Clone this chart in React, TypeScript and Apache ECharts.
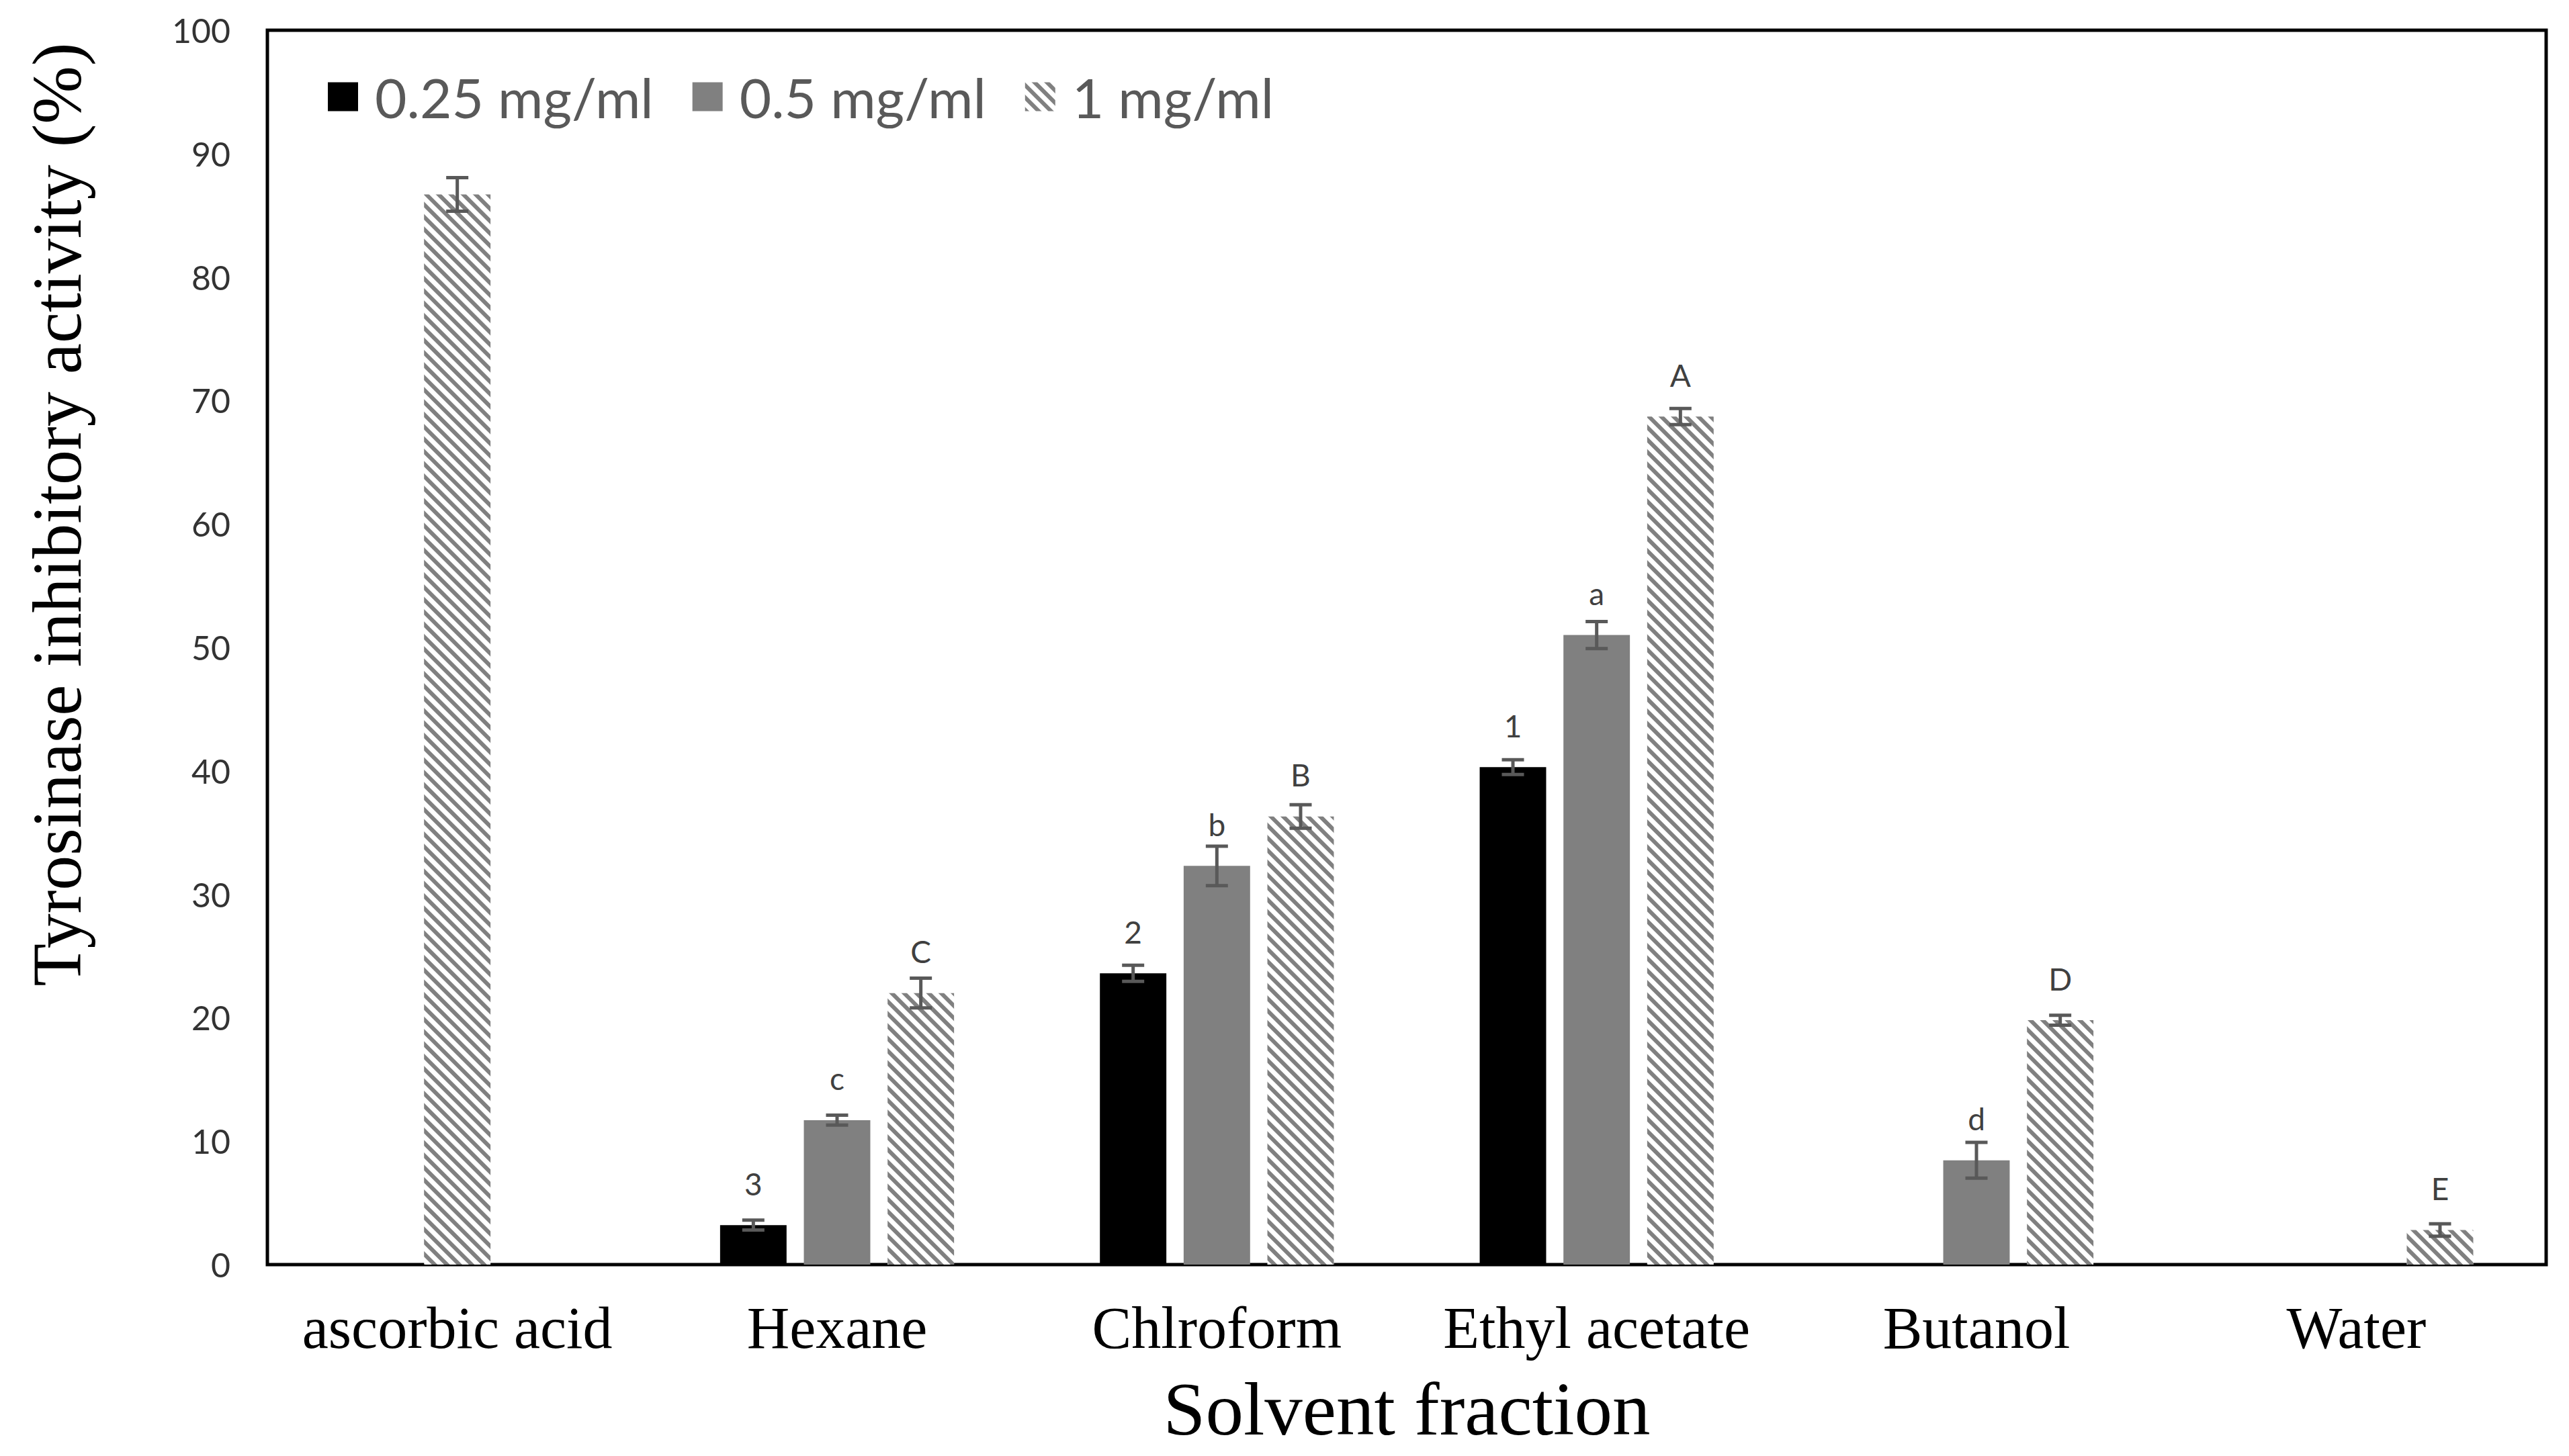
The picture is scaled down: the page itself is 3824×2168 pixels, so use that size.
import React, { useEffect, useRef } from "react";
import * as echarts from "echarts";

const categories = ["ascorbic acid", "Hexane", "Chlroform", "Ethyl acetate", "Butanol", "Water"];
const seriesNames = ["0.25 mg/ml", "0.5 mg/ml", "1 mg/ml"];
const low = [null, 3.2, 23.6, 40.3, null, null];
const mid = [86.7, 11.7, 32.3, 51.0, 8.45, null];
const high = [null, 22.0, 36.3, 68.7, 19.8, 2.8];
const lowErr = [null, 0.4, 0.65, 0.6, null, null];
const midErr = [1.36, 0.4, 1.6, 1.1, 1.45, null];
const highErr = [null, 1.2, 0.95, 0.65, 0.4, 0.5];
const lowLetters = ["", "3", "2", "1", "", ""];
const midLetters = ["", "c", "b", "a", "d", ""];
const highLetters = ["", "C", "B", "A", "D", "E"];
const hatchedIndexInMid = 0; // ascorbic acid bar drawn with the 1 mg/ml hatch
const yTicks = { min: 0, max: 100, interval: 10 };

const BAR_FRAC = 0.175;
const GAP_FRAC = 0.26;

const hatch = {
  symbol: "rect",
  symbolSize: 1,
  dashArrayX: [1, 0],
  dashArrayY: [6, 7],
  rotation: Math.PI / 4,
  color: "#808080",
  backgroundColor: "#ffffff",
};

function errSeries(name: string, values: (number | null)[], errs: (number | null)[], slot: number) {
  const data: number[][] = [];
  values.forEach((v, i) => {
    if (v != null && errs[i] != null) data.push([i, v, errs[i] as number]);
  });
  return {
    type: "custom",
    name,
    z: 5,
    encode: { x: 0, y: 1 },
    data,
    renderItem: (params: any, api: any) => {
      const x = api.value(0);
      const v = api.value(1);
      const e = api.value(2);
      const band = api.size([1, 0])[0];
      const bw = band * BAR_FRAC;
      const off = slot * bw * (1 + GAP_FRAC);
      const top = api.coord([x, v + e]);
      const bot = api.coord([x, v - e]);
      const cx = top[0] + off;
      const hw = 16.5;
      const st = { stroke: "#595959", lineWidth: 5 };
      return {
        type: "group",
        children: [
          { type: "line", shape: { x1: cx, y1: top[1], x2: cx, y2: bot[1] }, style: st },
          { type: "line", shape: { x1: cx - hw, y1: top[1], x2: cx + hw, y2: top[1] }, style: st },
          { type: "line", shape: { x1: cx - hw, y1: bot[1], x2: cx + hw, y2: bot[1] }, style: st },
        ],
      };
    },
  };
}

function labelFor(letters: string[]) {
  return {
    show: true,
    position: "top",
    distance: 39,
    fontFamily: "Lato",
    fontSize: 46,
    color: "#404040",
    formatter: (p: any) => letters[p.dataIndex] || "",
  };
}

export default function App() {
  const ref = useRef<HTMLDivElement>(null);
  useEffect(() => {
    if (!ref.current) return;
    const chart = echarts.init(ref.current, undefined, { renderer: "svg" });
    const midData = mid.map((v, i) =>
      v == null
        ? "-"
        : i === hatchedIndexInMid
        ? { value: v, itemStyle: { color: "#ffffff", decal: hatch } }
        : v
    );
    chart.setOption({
      animation: false,
      backgroundColor: "#ffffff",
      grid: {
        show: true,
        borderColor: "#000000",
        borderWidth: 5,
        left: 398,
        right: 34,
        top: 45,
        bottom: 285,
        containLabel: false,
      },
      legend: {
        left: 483,
        top: 98,
        itemWidth: 45,
        itemHeight: 43,
        itemGap: 58,
        icon: "rect",
        data: seriesNames,
        textStyle: {
          fontFamily: "Lato",
          fontSize: 82,
          lineHeight: 82,
          color: "#595959",
          padding: [0, 0, 0, 20],
        },
      },
      graphic: [
        {
          type: "text",
          x: 84,
          y: 766,
          rotation: Math.PI / 2,
          style: {
            text: "Tyrosinase inhibitory activity (%)",
            fontFamily: "Liberation Serif",
            fontSize: 104,
            fill: "#000000",
            textAlign: "center",
            textVerticalAlign: "middle",
          },
        },
      ],
      xAxis: {
        type: "category",
        data: categories,
        axisTick: { show: false },
        axisLine: { show: false },
        axisLabel: {
          interval: 0,
          fontFamily: "Liberation Serif",
          fontSize: 88,
          color: "#000000",
          margin: 50,
        },
        name: "Solvent fraction",
        nameLocation: "middle",
        nameGap: 158,
        nameTextStyle: { fontFamily: "Liberation Serif", fontSize: 113, color: "#000000" },
      },
      yAxis: {
        type: "value",
        min: yTicks.min,
        max: yTicks.max,
        interval: yTicks.interval,
        axisLine: { show: false },
        axisTick: { show: false },
        splitLine: { show: false },
        axisLabel: { fontFamily: "Lato", fontSize: 50, color: "#333333", margin: 55 },
      },
      series: [
        {
          type: "bar",
          name: seriesNames[0],
          data: low.map((v) => (v == null ? "-" : v)),
          barWidth: BAR_FRAC * 100 + "%",
          barGap: GAP_FRAC * 100 + "%",
          itemStyle: { color: "#000000" },
          label: labelFor(lowLetters),
        },
        {
          type: "bar",
          name: seriesNames[1],
          data: midData,
          barWidth: BAR_FRAC * 100 + "%",
          barGap: GAP_FRAC * 100 + "%",
          itemStyle: { color: "#808080" },
          label: labelFor(midLetters),
        },
        {
          type: "bar",
          name: seriesNames[2],
          data: high.map((v) => (v == null ? "-" : v)),
          barWidth: BAR_FRAC * 100 + "%",
          barGap: GAP_FRAC * 100 + "%",
          itemStyle: { color: "#ffffff", decal: hatch },
          label: labelFor(highLetters),
        },
        errSeries("err-low", low, lowErr, -1),
        errSeries("err-mid", mid, midErr, 0),
        errSeries("err-high", high, highErr, 1),
      ],
    });
    return () => chart.dispose();
  }, []);
  return (
    <div
      ref={ref}
      style={{ position: "fixed", left: 0, top: 0, width: 3824, height: 2168, background: "#ffffff" }}
    />
  );
}
